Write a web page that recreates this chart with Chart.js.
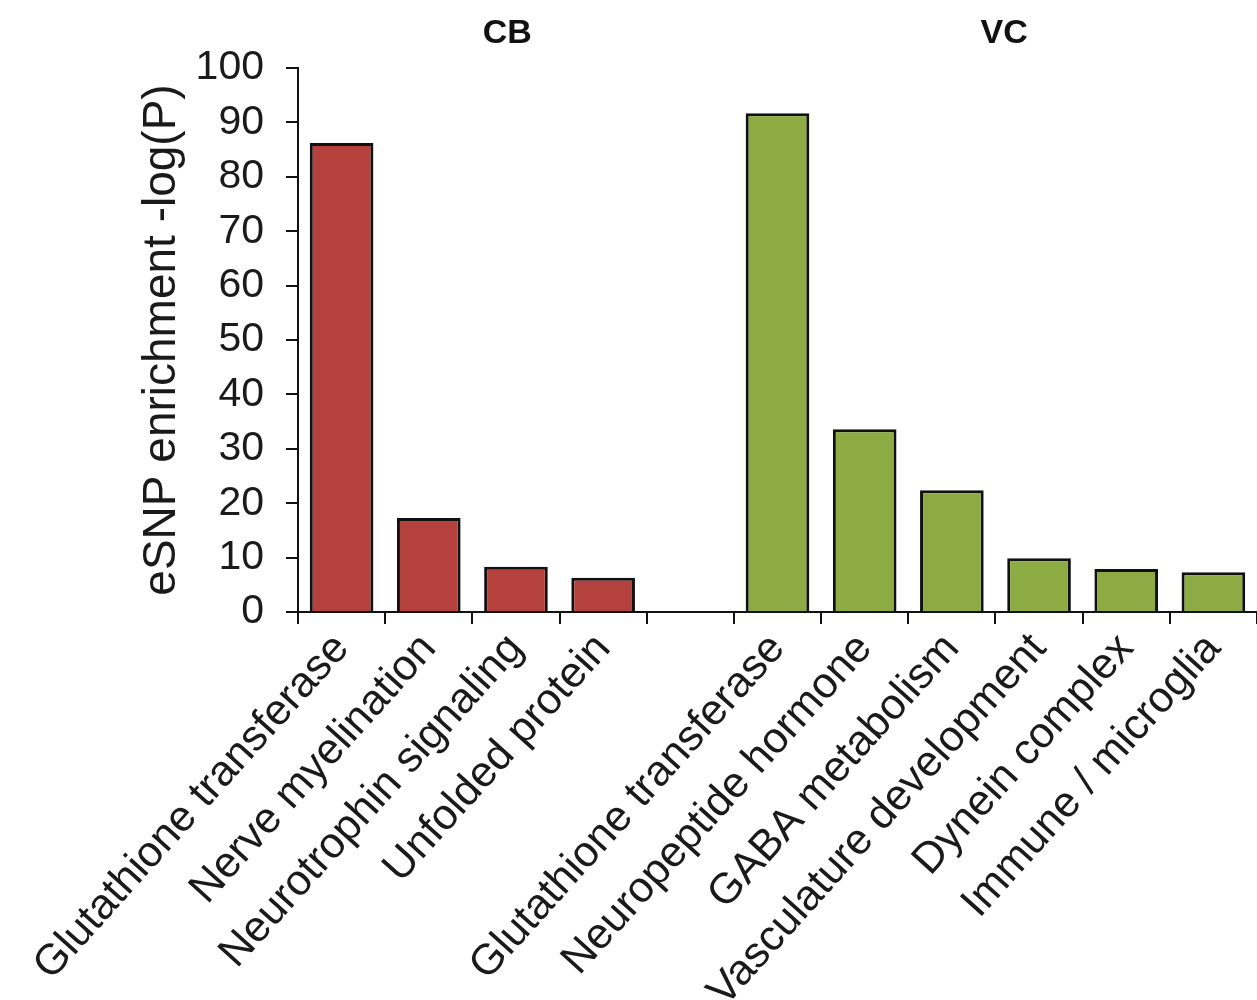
<!DOCTYPE html>
<html>
<head>
<meta charset="utf-8">
<script src="https://cdn.jsdelivr.net/npm/chart.js@4"></script>
<style>
  html, body { margin: 0; padding: 0; background: #fff; overflow: hidden; }
  #wrap { width: 1257px; height: 1000px; }
</style>
</head>
<body>
<div id="wrap"><canvas id="chart"></canvas></div>
<script>
const cbLabels = ['Glutathione transferase', 'Nerve myelination', 'Neurotrophin signaling', 'Unfolded protein'];
const cbValues = [86.2, 17.3, 8.3, 6.3];

const vcLabels = ['Glutathione transferase', 'Neuropeptide hormone', 'GABA metabolism',
  'Vasculature development', 'Dynein complex', 'Immune / microglia'];
const vcValues = [91.7, 33.6, 22.4, 9.9, 7.9, 7.3];

const yTicks = [0, 10, 20, 30, 40, 50, 60, 70, 80, 90, 100];

const red = '#b5413f';
const green = '#8cab43';

// one empty slot between the two groups
const labels = [...cbLabels, '', ...vcLabels];
const values = [...cbValues, null, ...vcValues];
const colors = [...cbLabels.map(() => red), 'rgba(0,0,0,0)', ...vcLabels.map(() => green)];

const groupTitles = {
  id: 'groupTitles',
  afterDraw(chart) {
    const { ctx, scales: { x } } = chart;
    const at = (i) => {
      const a = x.getPixelForValue(Math.floor(i));
      const b = x.getPixelForValue(Math.ceil(i));
      return a + (b - a) * (i - Math.floor(i));
    };
    ctx.save();
    ctx.font = 'bold 34px "Liberation Sans", Arial, sans-serif';
    ctx.fillStyle = '#111';
    ctx.textAlign = 'center';
    ctx.textBaseline = 'middle';
    ctx.fillText('CB', at(1.9), 34);
    ctx.fillText('VC', at(7.6), 34);
    ctx.restore();
  },
};

const family = '"Liberation Sans", Arial, sans-serif';

new Chart(document.getElementById('chart'), {
  type: 'bar',
  data: {
    labels: labels,
    datasets: [{
      data: values,
      backgroundColor: colors,
      borderColor: '#111',
      borderWidth: 3,
      barPercentage: 0.73,
      categoryPercentage: 1,
    }],
  },
  options: {
    responsive: true,
    maintainAspectRatio: false,
    animation: false,
    layout: { padding: { top: 68, left: 135, right: 0, bottom: 0 } },
    plugins: {
      legend: { display: false },
      tooltip: { enabled: false },
    },
    scales: {
      x: {
        grid: {
          display: true,
          drawOnChartArea: false,
          drawTicks: true,
          tickLength: 12,
          color: '#111',
          lineWidth: 2,
          offset: true,
        },
        border: { display: true, color: '#111', width: 2 },
        ticks: {
          autoSkip: false,
          maxRotation: 48,
          minRotation: 48,
          padding: 0,
          color: '#1a1a1a',
          font: { family: family, size: 43 },
        },
        afterFit(scale) { scale.height = 388; },
      },
      y: {
        min: 0,
        max: 100,
        afterBuildTicks(scale) { scale.ticks = yTicks.map(v => ({ value: v })); },
        grid: {
          display: true,
          drawOnChartArea: false,
          drawTicks: true,
          tickLength: 12,
          color: '#111',
          lineWidth: 2,
        },
        border: { display: true, color: '#111', width: 2 },
        ticks: {
          padding: 22,
          color: '#1a1a1a',
          font: { family: family, size: 41 },
        },
        title: {
          display: true,
          text: 'eSNP enrichment -log(P)',
          color: '#1a1a1a',
          font: { family: family, size: 46 },
          padding: { top: 0, bottom: 0 },
        },
        afterFit(scale) { scale.width = 163; },
      },
    },
  },
  plugins: [groupTitles],
});
</script>
</body>
</html>
